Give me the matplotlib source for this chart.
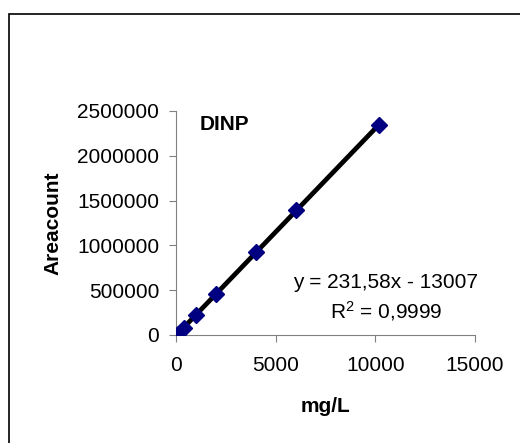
import numpy as np
import matplotlib.pyplot as plt
from matplotlib.patches import Rectangle

plt.rcParams['font.family'] = ['Liberation Sans', 'DejaVu Sans']

# datos de calibracion DINP
conc = [100, 400, 1000, 2000, 4000, 6000, 10200]          # mg/L
area = [15000, 80000, 220000, 455000, 930000, 1395000, 2340000]
eq_text = 'y = 231,58x - 13007'
r2_text = '$\\mathregular{R^2}$ = 0,9999'

fig = plt.figure(figsize=(5.2, 4.43), dpi=100)
ax = fig.add_axes([176/520, 1-335/443, (475-176)/520, (335-111)/443])

# linea de tendencia
m, b = np.polyfit(conc, area, 1)
xs = np.array([min(conc), max(conc)])
ax.plot(xs, m*xs + b, color='black', lw=3.4, zorder=2)
ax.plot(conc, area, 'D', color='#000080', ms=8, mec='#000080', zorder=3)

ax.set_xlim(0, 15000)
ax.set_ylim(0, 2500000)
ax.set_xticks([0, 5000, 10000, 15000])
ax.set_yticks(np.arange(0, 2500001, 500000))
ax.ticklabel_format(style='plain')
for s in ['top', 'right']:
    ax.spines[s].set_visible(False)
for s in ['left', 'bottom']:
    ax.spines[s].set_color('#808080')
ax.tick_params(axis='y', direction='out', length=5, color='#808080', labelsize=15, pad=7)
ax.tick_params(axis='x', direction='out', length=5, color='#808080', labelsize=15, pad=10)

fig.text(53/520, 1-223/443, 'Areacount', rotation=90, fontsize=15, fontweight='bold',
         ha='center', va='center')
fig.text(325/520, 1-406/443, 'mg/L', fontsize=15, fontweight='bold', ha='center', va='center')
fig.text(224/520, 1-124.5/443, 'DINP', fontsize=15, fontweight='bold', ha='center', va='center')
fig.text(386/520, 1-283/443, eq_text, fontsize=15, ha='center', va='center')
fig.text(386/520, 1-311/443, r2_text, fontsize=15, ha='center', va='center')

# marco exterior
fig.patches.append(Rectangle((8.5/520, -0.1), 1.2, 1.1 - 13.5/443, transform=fig.transFigure,
                             fill=False, ec='black', lw=1.2, clip_on=False))

fig.savefig('out.png', dpi=100)
